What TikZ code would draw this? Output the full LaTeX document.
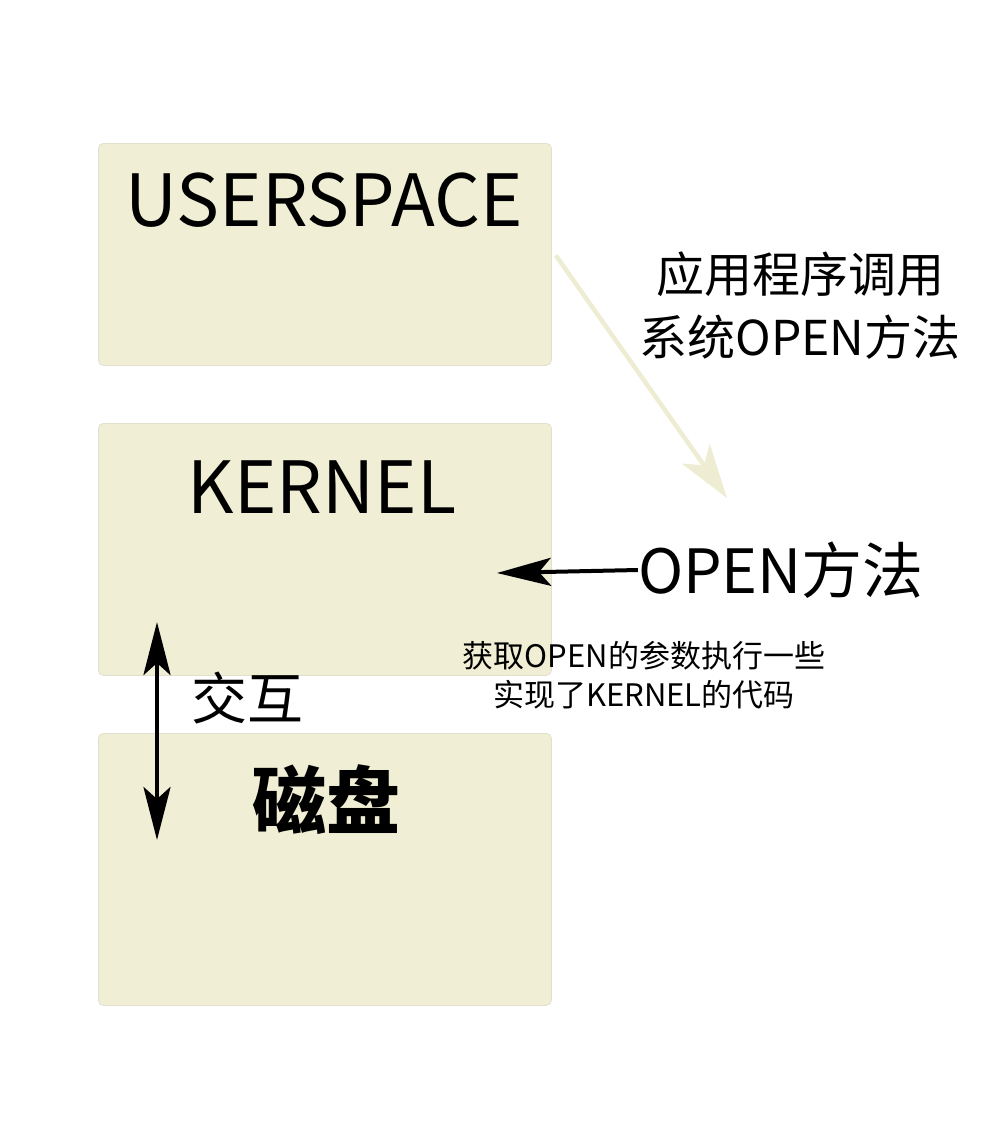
\documentclass[tikz,border=0pt]{standalone}
\usepackage{fontspec}
\setmainfont{Noto Sans CJK SC}
\usetikzlibrary{positioning, arrows.meta}
\definecolor{boxfill}{HTML}{F0EED4}
\definecolor{boxline}{HTML}{E2E0CC}
\definecolor{callcol}{HTML}{EEEDD3}

\begin{document}
\begin{tikzpicture}
[x=1pt,y=-1pt,
 layer/.style={draw=boxline,fill=boxfill,rounded corners=5pt,line width=0.8pt,
               minimum width=453pt,inner sep=0pt,anchor=north west},
 big/.style={font=\fontsize{72}{80}\selectfont,inner sep=0pt},
 tip/.style={-{Stealth[length=54pt,width=28pt,inset=12pt]}},
 both/.style={{Stealth[length=53pt,width=27pt,inset=12pt]}-{Stealth[length=53pt,width=27pt,inset=12pt]}}]
\useasboundingbox (0,0) rectangle (983,1133);

% the three layers
\node[layer, minimum height=222pt] (userspace) at (98,143) {};
\node[layer, minimum height=252pt] (kernel) at (98,423) {};
\node[layer, minimum height=272pt] (disk) at (98,733) {};

\node[big] (usertext) at (324,200) {USERSPACE};
\node[big] (kerneltext) at (322,487) {KERNEL};
\node[font=\fontsize{74}{80}\selectfont\bfseries,inner sep=0pt] (disktext) at (326,800) {磁盘};
\node[font=\fontsize{56}{60}\selectfont,inner sep=0pt] (talk) at (247,698) {交互};

% labels on the right
\node[font=\fontsize{48}{63}\selectfont,align=center,inner sep=0pt] (call) at (800,306)
  {应用程序调用\\系统OPEN方法};
\node[font=\fontsize{61}{66}\selectfont,inner sep=0pt] (open) at (781,570) {OPEN方法};
\node[font=\fontsize{31}{39}\selectfont,align=center,inner sep=0pt] (args) at (644,675)
  {获取OPEN的参数执行一些\\实现了KERNEL的代码};

\coordinate (callend) at (727,498);
\coordinate (openend) at (497,573);
\coordinate (uptip) at (157,622);
\coordinate (downtip) at (157,840);

\draw[callcol,line width=4.5pt,-{Stealth[length=54pt,width=34pt,inset=14pt]}]
  ([shift={(4,1)}]userspace.east) -- (callend);
\draw[tip,line width=4pt] (open.west) -- (openend);
\draw[both,line width=4.5pt] (uptip) -- (downtip);

\end{tikzpicture}
\end{document}
